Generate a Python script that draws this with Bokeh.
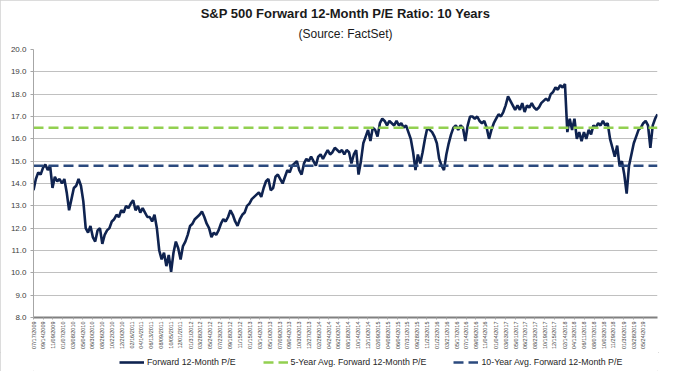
import math
import pandas as pd
from bokeh.plotting import figure
from bokeh.layouts import column
from bokeh.models import (Range1d, FixedTicker, PrintfTickFormatter, DatetimeTickFormatter,
                          Legend, LegendItem, Title)
from bokeh.embed import file_html
from bokeh.resources import INLINE

# ---------------- data ----------------
start_date = "2009-07-17"          # first observation
step = "14D"                       # one reading every two weeks
pe_values = [
    13.7, 14.2, 14.5, 14.4, 14.7, 14.85, 14.6, 14.8, 13.8, 14.3,
    14.1, 14.2, 14.0, 14.2, 13.6, 12.8, 13.3, 13.8, 13.9, 14.2,
    13.9, 13.2, 12.0, 11.8, 12.1, 11.6, 11.4, 11.9, 12.0, 11.3,
    11.7, 11.9, 12.0, 12.3, 12.4, 12.6, 12.5, 12.8, 12.7, 13.0,
    12.9, 13.1, 13.25, 12.8, 13.0, 12.7, 12.9, 12.7, 12.5, 12.5,
    12.3, 12.6, 12.0, 11.0, 10.6, 10.9, 10.3, 10.8, 10.05, 10.9,
    11.4, 11.1, 10.6, 11.2, 11.4, 11.7, 12.1, 12.2, 12.4, 12.5,
    12.6, 12.75, 12.5, 12.2, 12.0, 11.6, 11.8, 11.7, 11.9, 12.2,
    12.4, 12.3, 12.5, 12.8, 12.6, 12.3, 12.1, 12.4, 12.6, 12.7,
    13.0, 13.1, 13.3, 13.4, 13.5, 13.6, 13.4, 13.8, 14.1, 14.2,
    13.7, 13.8, 14.3, 14.4, 14.2, 14.0, 14.3, 14.6, 14.5, 14.8,
    14.9, 15.0, 14.6, 14.4, 14.9, 15.1, 15.0, 15.2, 15.0, 14.8,
    15.2, 15.3, 15.1, 15.3, 15.5, 15.3, 15.4, 15.6, 15.5, 15.4,
    15.5, 15.3, 15.5, 15.4, 14.9, 15.3, 15.5, 14.4, 15.0, 15.8,
    16.1, 16.4, 15.9, 16.5, 16.4, 16.1, 16.7, 16.9, 16.8, 16.6,
    16.8, 16.7, 16.6, 16.8, 16.6, 16.7, 16.5, 16.6, 16.3, 16.0,
    15.4, 14.6, 15.3, 14.9, 15.4, 16.0, 16.5, 16.4, 16.3, 16.1,
    15.8, 15.1, 14.8, 14.6, 15.3, 15.8, 16.2, 16.5, 16.6, 16.4,
    16.6, 16.5, 15.9, 16.6, 17.0, 17.0, 16.9, 17.0, 16.8, 16.7,
    16.8, 16.5, 16.0, 16.4, 16.7, 16.9, 17.1, 17.0, 17.2, 17.5,
    17.9, 17.7, 17.5, 17.3, 17.5, 17.3, 17.6, 17.2, 17.5, 17.4,
    17.6, 17.4, 17.3, 17.4, 17.6, 17.7, 17.8, 17.7, 18.0, 18.1,
    18.3, 18.2, 18.4, 18.3, 18.45, 16.3, 16.9, 16.4, 16.9, 16.0,
    16.3, 15.9, 16.3, 16.0, 16.4, 16.2, 16.6, 16.5, 16.7, 16.6,
    16.8, 16.6, 16.7, 16.0, 15.6, 15.2, 15.7, 14.8, 15.0, 14.4,
    13.55, 14.8, 15.3, 15.8, 16.1, 16.4, 16.5, 16.7, 16.8, 16.6,
    15.6, 16.6, 16.9, 17.1,
]
five_year_avg = 16.5
ten_year_avg = 14.8

tick_labels = [
    "07/17/2009", "09/14/2009", "11/09/2009", "01/07/2010", "03/08/2010", "05/04/2010",
    "06/30/2010", "08/26/2010", "10/22/2010", "12/20/2010", "02/16/2011", "04/14/2011",
    "06/13/2011", "08/09/2011", "10/05/2011", "12/01/2011", "01/31/2012", "03/28/2012",
    "05/24/2012", "07/23/2012", "09/18/2012", "11/15/2012", "01/15/2013", "03/14/2013",
    "05/10/2013", "07/09/2013", "09/04/2013", "10/30/2013", "12/27/2013", "02/26/2014",
    "04/24/2014", "06/20/2014", "08/18/2014", "10/14/2014", "12/10/2014", "02/09/2015",
    "04/08/2015", "06/04/2015", "07/31/2015", "09/28/2015", "11/23/2015", "01/22/2016",
    "03/21/2016", "05/17/2016", "07/14/2016", "09/09/2016", "11/04/2016", "01/04/2017",
    "03/03/2017", "05/01/2017", "06/27/2017", "08/23/2017", "10/19/2017", "12/15/2017",
    "02/14/2018", "04/13/2018", "06/11/2018", "08/07/2018", "10/03/2018", "11/29/2018",
    "01/30/2019", "03/28/2019", "05/24/2019",
]
y_ticks = [8, 9, 10, 11, 12, 13, 14, 15, 16, 17, 18, 19, 20]

series_names = ["Forward 12-Month P/E",
                "5-Year Avg. Forward 12-Month P/E",
                "10-Year Avg. Forward 12-Month P/E"]

# ---------------- build ----------------
dates = pd.date_range(start_date, periods=len(pe_values), freq=step)
tick_ms = [int(pd.to_datetime(t, format="%m/%d/%Y").value // 10**6) for t in tick_labels]

FONT = "Liberation Sans"
NAVY = "#0F2350"
GREEN = "#92D050"
BLUE = "#2B4A7E"
W = 659

p = figure(width=W, height=352, x_axis_type="datetime",
           x_range=Range1d(dates[0], dates[-1]), y_range=Range1d(y_ticks[0], y_ticks[-1]),
           output_backend="svg", toolbar_location=None,
           title="S&P 500 Forward 12-Month P/E Ratio: 10 Years",
           min_border_left=33, min_border_right=2, min_border_top=44, min_border_bottom=33)

p.title.align = "center"
p.title.text_font = FONT
p.title.text_font_size = "13px"
p.title.text_font_style = "bold"
p.title.text_color = "#1a1a1a"
p.title.standoff = 6
# spacer between subtitle and plot area (closest to the frame)
p.add_layout(Title(text=" ", text_font_size="1px", standoff=4), "above")
p.add_layout(Title(text="(Source: FactSet)", align="center", standoff=3,
                   text_font=FONT, text_font_size="12px", text_font_style="normal",
                   text_color="#1a1a1a"), "above")

p.outline_line_color = None
p.xgrid.visible = False
p.ygrid.ticker = FixedTicker(ticks=y_ticks)
p.ygrid.grid_line_color = "#C0C0C0"
p.ygrid.grid_line_width = 1.2

p.yaxis.ticker = FixedTicker(ticks=y_ticks)
p.yaxis.formatter = PrintfTickFormatter(format="%.1f")
p.yaxis.axis_line_color = "#A6A6A6"
p.yaxis.major_tick_line_color = "#A6A6A6"
p.yaxis.major_tick_out = 3
p.yaxis.major_tick_in = 0
p.yaxis.minor_tick_line_color = None
p.yaxis.major_label_text_font = FONT
p.yaxis.major_label_text_font_size = "8px"
p.yaxis.major_label_text_color = "#404040"
p.yaxis.major_label_standoff = 4

p.xaxis.ticker = FixedTicker(ticks=tick_ms)
fmt = "%m/%d/%Y"
p.xaxis.formatter = DatetimeTickFormatter(milliseconds=fmt, seconds=fmt, minsec=fmt, minutes=fmt,
                                          hourmin=fmt, hours=fmt, days=fmt, months=fmt, years=fmt)
p.xaxis.major_label_orientation = math.pi / 2
p.xaxis.major_label_text_font = FONT
p.xaxis.major_label_text_font_size = "5.5px"
p.xaxis.major_label_text_color = "#404040"
p.xaxis.axis_line_color = "#808080"
p.xaxis.axis_line_width = 2
p.xaxis.major_tick_line_color = "#A6A6A6"
p.xaxis.major_tick_out = 2
p.xaxis.major_tick_in = 0
p.xaxis.minor_tick_line_color = None
p.xaxis.major_label_standoff = 2

p.line(dates, pe_values, line_color=NAVY, line_width=2.6)
p.line([dates[0], dates[-1]], [five_year_avg, five_year_avg],
       line_color=GREEN, line_width=2.5, line_dash="10 5")
p.line([dates[0], dates[-1]], [ten_year_avg, ten_year_avg],
       line_color=BLUE, line_width=2.5, line_dash="10 5")

# ---------------- legend strip (series drawn out of view, only their legend glyphs show) ----
p2 = figure(width=W, height=19, x_range=p.x_range, y_range=Range1d(0, 1),
            output_backend="svg", toolbar_location=None,
            min_border_left=0, min_border_right=0, min_border_top=0, min_border_bottom=0)
p2.axis.visible = False
p2.grid.visible = False
p2.outline_line_color = None
l_main = p2.line(dates, pe_values, line_color=NAVY, line_width=2.6)
l_five = p2.line([dates[0], dates[-1]], [five_year_avg, five_year_avg],
                 line_color=GREEN, line_width=2.5, line_dash="10 5")
l_ten = p2.line([dates[0], dates[-1]], [ten_year_avg, ten_year_avg],
                line_color=BLUE, line_width=2.5, line_dash="10 5")
legend = Legend(items=[LegendItem(label=series_names[0], renderers=[l_main]),
                       LegendItem(label=series_names[1], renderers=[l_five]),
                       LegendItem(label=series_names[2], renderers=[l_ten])],
                orientation="horizontal", location=(86, 4),
                border_line_color=None, background_fill_alpha=0,
                label_text_font=FONT, label_text_font_size="8.8px", label_text_color="#262626",
                glyph_width=25, glyph_height=10, spacing=27, padding=0, margin=0,
                label_standoff=3, label_height=10)
p2.add_layout(legend, "center")

layout = column(p, p2, spacing=0)
layout.styles = {"outline": "1.5px solid #D0D0D0", "outline-offset": "-1.5px"}

open("out.html", "w").write(file_html(layout, INLINE))
